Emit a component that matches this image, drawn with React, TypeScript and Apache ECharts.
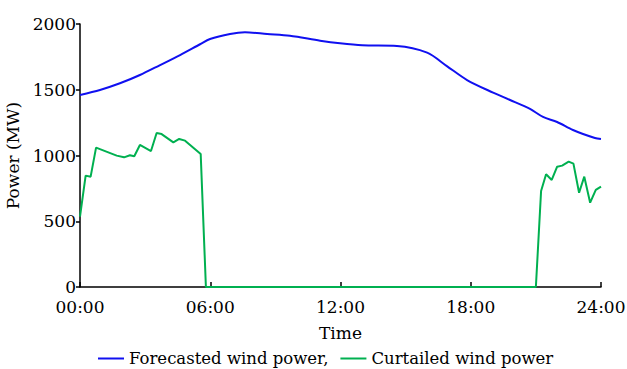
import React, { useEffect, useRef } from "react";
import * as echarts from "echarts";

const forecastHours = [0, 0.92, 1.84, 2.76, 3.69, 4.61, 5.53, 5.99, 6.91, 7.6, 8.62, 9.67, 10.13, 11.06, 11.98, 13.0, 14.6, 15.99, 16.9, 17.83, 19.03, 19.81, 20.73, 21.33, 21.98, 22.71, 23.72, 24];
const forecastValues = [1460, 1498, 1549, 1612, 1688, 1764, 1846, 1886, 1924, 1937, 1924, 1911, 1899, 1873, 1853, 1838, 1833, 1782, 1680, 1574, 1478, 1422, 1354, 1293, 1255, 1194, 1133, 1125];

const curtailedHours = [0, 0.26, 0.49, 0.74, 1.69, 2.03, 2.3, 2.5, 2.76, 3.27, 3.53, 3.76, 4.3, 4.57, 4.84, 5.56, 5.8, 21.0, 21.24, 21.47, 21.73, 21.98, 22.21, 22.51, 22.73, 22.99, 23.23, 23.5, 23.76, 24];
const curtailedValues = [535, 847, 839, 1060, 999, 986, 1002, 994, 1080, 1034, 1171, 1163, 1100, 1126, 1113, 1011, 0, 0, 730, 857, 814, 915, 923, 953, 938, 717, 839, 641, 738, 763];

const seriesNames = ["Forecasted wind power,", "Curtailed wind power"];
const xTicks = [0, 6, 12, 18, 24];
const yTicks = [0, 500, 1000, 1500, 2000];

const FONT = "DejaVu Serif";

export default function App() {
  const ref = useRef<HTMLDivElement>(null);
  useEffect(() => {
    if (!ref.current) return;
    const chart = echarts.init(ref.current, null, { renderer: "svg" });
    const axisLine = { show: true, lineStyle: { color: "#000", width: 1.5 } };
    chart.setOption({
      animation: false,
      backgroundColor: "#fff",
      grid: { left: 80, right: 26, top: 24, bottom: 82, containLabel: false, outerBoundsMode: "none" },
      legend: {
        left: 93,
        top: 345,
        itemGap: 12,
        itemWidth: 26,
        itemHeight: 2,
        icon: "rect",
        textStyle: { fontFamily: FONT, fontSize: 16.5, color: "#000" },
        data: seriesNames,
      },
      xAxis: {
        type: "value",
        min: xTicks[0],
        max: xTicks[xTicks.length - 1],
        interval: 6,
        name: "Time",
        nameLocation: "middle",
        nameGap: 37,
        nameTextStyle: { fontFamily: FONT, fontSize: 17, color: "#000" },
        axisLine,
        axisTick: { show: true, inside: true, length: 5, lineStyle: { color: "#000", width: 1.5 } },
        axisLabel: {
          fontFamily: FONT,
          fontSize: 17,
          color: "#000",
          margin: 11,
          formatter: (v: number) => (v < 10 ? "0" : "") + v + ":00",
        },
        splitLine: { show: false },
      },
      yAxis: {
        type: "value",
        min: yTicks[0],
        max: yTicks[yTicks.length - 1],
        interval: 500,
        name: "Power (MW)",
        nameLocation: "middle",
        nameGap: 50,
        nameTextStyle: { fontFamily: FONT, fontSize: 17, color: "#000" },
        axisLine,
        axisTick: { show: true, inside: false, length: 4, lineStyle: { color: "#000", width: 1.5 } },
        axisLabel: { fontFamily: FONT, fontSize: 17, color: "#000", margin: 4, formatter: (v: number) => String(v) },
        splitLine: { show: false },
      },
      series: [
        {
          name: seriesNames[0],
          type: "line",
          showSymbol: false,
          smooth: 0.3,
          data: forecastHours.map((h, i) => [h, forecastValues[i]]),
          lineStyle: { color: "#1010f0", width: 2 },
          itemStyle: { color: "#1010f0" },
        },
        {
          name: seriesNames[1],
          type: "line",
          showSymbol: false,
          data: curtailedHours.map((h, i) => [h, curtailedValues[i]]),
          lineStyle: { color: "#00b050", width: 2 },
          itemStyle: { color: "#00b050" },
        },
      ],
    });
    return () => chart.dispose();
  }, []);
  return <div ref={ref} style={{ width: 627, height: 369, position: "absolute", left: 0, top: 0 }} />;
}
